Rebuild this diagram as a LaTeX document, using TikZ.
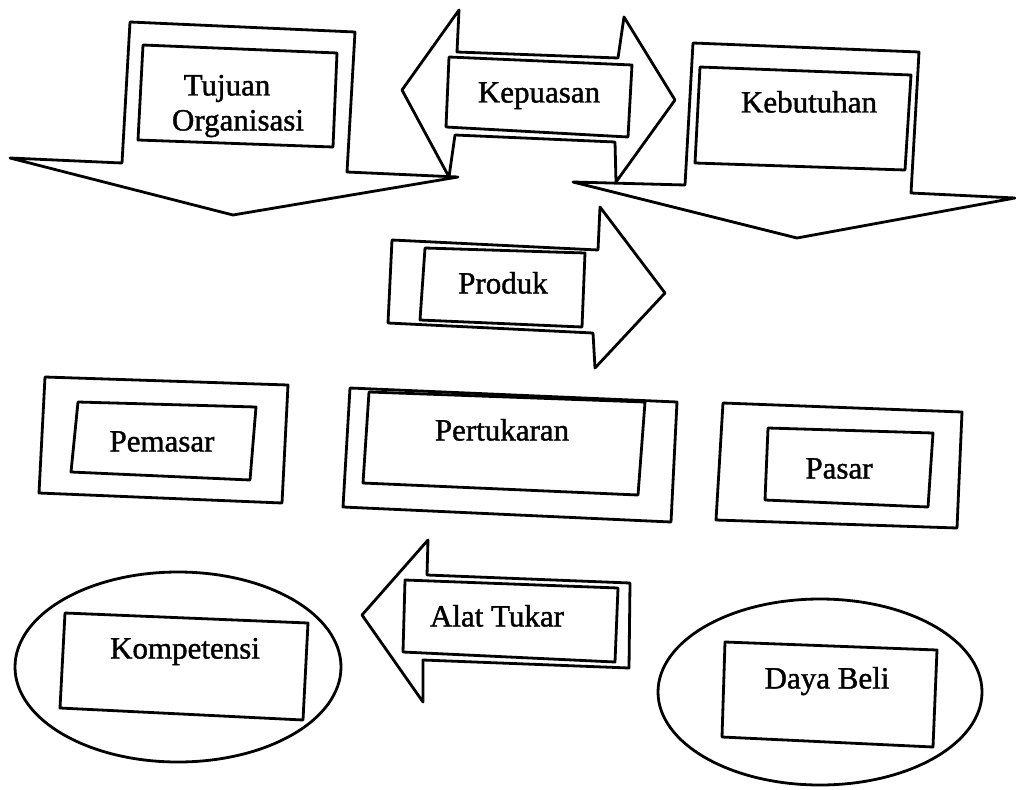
\documentclass[tikz,border=0pt]{standalone}
\usepackage{fontspec}
\setmainfont{Liberation Serif}
\newfontfamily\scanfont{Liberation Serif}[FakeBold=1.3]
\begin{document}
\begin{tikzpicture}[x=1pt,y=-1pt,
  shp/.style={draw=black,line width=2.8pt,line join=round},
  lbl/.style={font=\scanfont\fontsize{31}{34}\selectfont,inner sep=0pt,text height=21pt,text depth=0pt}]
\useasboundingbox (0,0) rectangle (1016,789);
\fill[white] (0,0) rectangle (1016,789);

% Tujuan Organisasi (down arrow)
\draw[shp] (130,22) -- (355,32) -- (347,172) -- (458,177) -- (233,215) -- (10,158) -- (122,163) -- cycle;
\draw[shp] (143,45) -- (337,53) -- (333,147) -- (138,140) -- cycle;
\node[lbl] (tujuan) at (227,85) {Tujuan};
\node[lbl] (organisasi) at (238,120) {Organisasi};

% Kepuasan (double arrow)
\draw[shp] (402,90) -- (459,10) -- (457,52) -- (618,58) -- (624,17) -- (675,100) -- (616,182) -- (615,142) -- (455,135) -- (449,177) -- cycle;
\draw[shp] (449,57) -- (632,65) -- (628,137) -- (446,127) -- cycle;
\node[lbl] (kepuasan) at (539,92) {Kepuasan};

% Kebutuhan (down arrow)
\draw[shp] (693,43) -- (919,52) -- (911,193) -- (1015,198) -- (797,238) -- (573,182) -- (685,185) -- cycle;
\draw[shp] (700,67) -- (911,75) -- (905,170) -- (695,163) -- cycle;
\node[lbl] (kebutuhan) at (809,102) {Kebutuhan};

% Produk (right arrow)
\draw[shp] (392,240) -- (598,250) -- (600,207) -- (665,293) -- (595,368) -- (593,333) -- (388,323) -- cycle;
\draw[shp] (425,248) -- (585,253) -- (582,327) -- (420,320) -- cycle;
\node[lbl] (produk) at (503,283) {Produk};

% Pemasar
\draw[shp] (45,377) -- (288,385) -- (282,503) -- (39,493) -- cycle;
\draw[shp] (78,402) -- (256,407) -- (250,480) -- (71,472) -- cycle;
\node[lbl] (pemasar) at (162,441) {Pemasar};

% Pertukaran
\draw[shp] (350,388) -- (677,402) -- (671,522) -- (343,507) -- cycle;
\draw[shp] (369,392) -- (645,402) -- (638,495) -- (363,483) -- cycle;
\node[lbl] (pertukaran) at (502,430) {Pertukaran};

% Pasar
\draw[shp] (723,403) -- (962,412) -- (957,528) -- (716,520) -- cycle;
\draw[shp] (768,428) -- (933,433) -- (928,507) -- (765,500) -- cycle;
\node[lbl] (pasar) at (839,468) {Pasar};

% Kompetensi
\draw[shp] (178,667) ellipse [x radius=163, y radius=95];
\draw[shp] (65,613) -- (308,623) -- (303,720) -- (60,708) -- cycle;
\node[lbl] (kompetensi) at (185,648) {Kompetensi};

% Alat Tukar (left arrow)
\draw[shp] (428,540) -- (427,575) -- (630,583) -- (629,668) -- (423,660) -- (423,702) -- (362,615) -- cycle;
\draw[shp] (405,580) -- (618,588) -- (615,662) -- (403,652) -- cycle;
\node[lbl] (alattukar) at (497,616) {Alat Tukar};

% Daya Beli
\draw[shp] (820,692) ellipse [x radius=162, y radius=93];
\draw[shp] (725,642) -- (937,650) -- (933,747) -- (722,737) -- cycle;
\node[lbl] (dayabeli) at (827,678) {Daya Beli};
\end{tikzpicture}
\end{document}
